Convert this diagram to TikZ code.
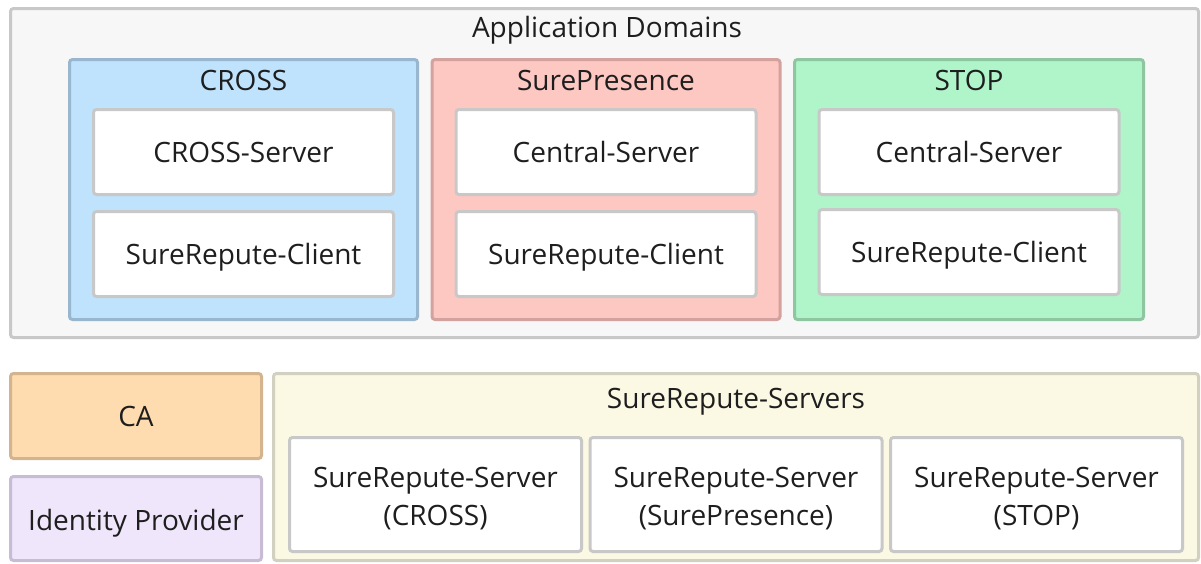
\documentclass[tikz,border=0pt]{standalone}
\usepackage{fontspec}
\setmainfont{Open Sans}
\definecolor{txt}{HTML}{1E1E1E}
\definecolor{frame}{HTML}{C8C8C8}
\definecolor{panelfill}{HTML}{F7F7F7}
\definecolor{crossfill}{HTML}{BFE3FC}
\definecolor{crossline}{HTML}{98B6CE}
\definecolor{surefill}{HTML}{FDC7C2}
\definecolor{sureline}{HTML}{D3A29E}
\definecolor{stopfill}{HTML}{AFF5C9}
\definecolor{stopline}{HTML}{8FC6A2}
\definecolor{cafill}{HTML}{FEDCB0}
\definecolor{caline}{HTML}{D3B48E}
\definecolor{idpfill}{HTML}{F0E6FC}
\definecolor{idpline}{HTML}{C7BDD3}
\definecolor{srvfill}{HTML}{FBF8E4}
\definecolor{srvline}{HTML}{D2D0C0}
\newcommand{\topstrut}{\rule{0pt}{29pt}}
\tikzset{
  box/.style={draw, line width=3pt, rounded corners=3pt, inner sep=0pt},
  panel/.style={box, draw=frame, fill=panelfill},
  oneline/.style={text height=20pt, text depth=0pt},
  leaf/.style={box, draw=frame, fill=white, text=txt, align=center, font=\fontsize{28}{38}\selectfont},
  label/.style={text=txt, inner sep=0pt, oneline, font=\fontsize{28}{34}\selectfont},
}
\begin{document}
\begin{tikzpicture}[x=1pt, y=-1pt]
\useasboundingbox (0,0) rectangle (1201,563);
% application domains
\node[panel, minimum width=1188pt, minimum height=329pt] (apps) at (604.5,173) {};
\node[label] (appsT) at (607,27) {Application Domains};

\node[box, draw=crossline, fill=crossfill, minimum width=348pt, minimum height=260pt] (cross) at (243.5,189.5) {};
\node[label] (crossT) at (243.5,80) {CROSS};
\node[leaf, oneline, minimum width=300pt, minimum height=85pt] (crossS) at (243.5,152) {CROSS-Server};
\node[leaf, oneline, minimum width=300pt, minimum height=85pt] (crossC) at (243.5,254) {SureRepute-Client};

\node[box, draw=sureline, fill=surefill, minimum width=348pt, minimum height=260pt] (sure) at (606,189.5) {};
\node[label] (sureT) at (606,80) {SurePresence};
\node[leaf, oneline, minimum width=300pt, minimum height=85pt] (sureS) at (606,152) {Central-Server};
\node[leaf, oneline, minimum width=300pt, minimum height=85pt] (sureC) at (606,254) {SureRepute-Client};

\node[box, draw=stopline, fill=stopfill, minimum width=349pt, minimum height=260pt] (stop) at (969,189.5) {};
\node[label] (stopT) at (969,80) {STOP};
\node[leaf, oneline, minimum width=300pt, minimum height=85pt] (stopS) at (969,152) {Central-Server};
\node[leaf, oneline, minimum width=300pt, minimum height=85pt] (stopC) at (969,252) {SureRepute-Client};

% infrastructure
\node[box, oneline, draw=caline, fill=cafill, text=txt, font=\fontsize{28}{34}\selectfont, minimum width=251pt, minimum height=85pt] (ca) at (136,416) {CA};
\node[box, oneline, draw=idpline, fill=idpfill, text=txt, font=\fontsize{28}{34}\selectfont, minimum width=251pt, minimum height=84pt] (idp) at (136,518.5) {\raisebox{-2pt}{Identity Provider}};

\node[box, draw=srvline, fill=srvfill, minimum width=925pt, minimum height=187pt] (srv) at (736,467) {};
\node[label] (srvT) at (736,398) {SureRepute-Servers};
\node[leaf, minimum width=292pt, minimum height=114pt] (srvA) at (435.5,494.5) {\topstrut SureRepute-Server\\(CROSS)};
\node[leaf, minimum width=292pt, minimum height=114pt] (srvB) at (736,494.5) {\topstrut SureRepute-Server\\(SurePresence)};
\node[leaf, minimum width=292pt, minimum height=114pt] (srvC) at (1036.5,494.5) {\topstrut SureRepute-Server\\(STOP)};
\end{tikzpicture}
\end{document}
